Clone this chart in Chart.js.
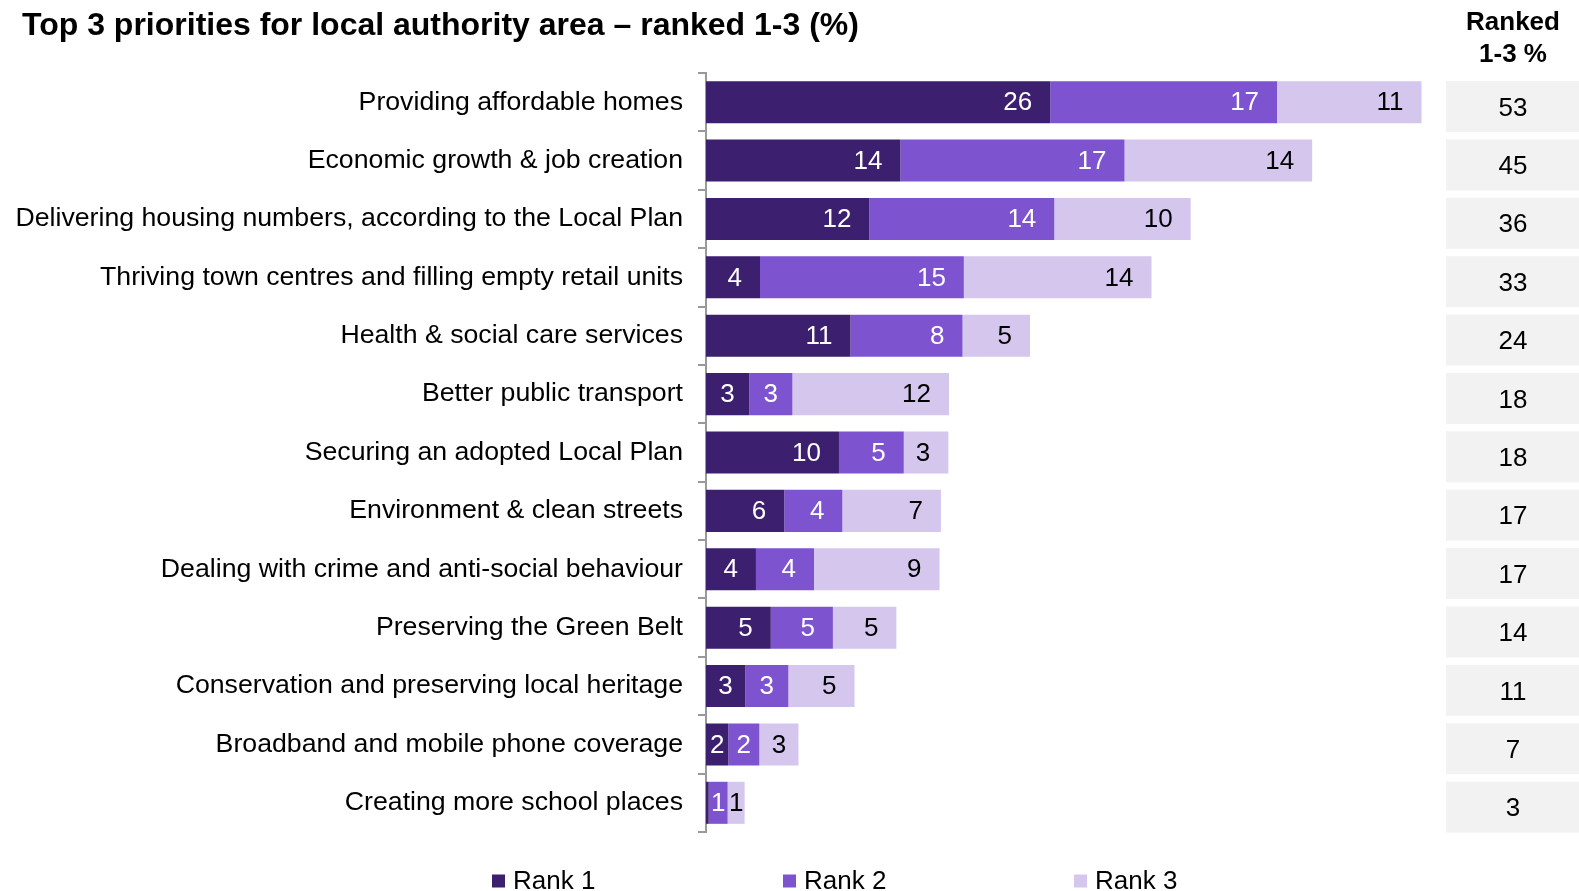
<!DOCTYPE html>
<html>
<head>
<meta charset="utf-8">
<title>Top 3 priorities for local authority area</title>
<script src="https://cdn.jsdelivr.net/npm/chart.js@4.4.1/dist/chart.umd.min.js"></script>
<style>
  html, body { margin: 0; padding: 0; background: #fff; overflow: hidden; }
  #wrap { position: relative; width: 1579px; height: 891px; }
</style>
</head>
<body>
<div id="wrap"><canvas id="priorityChart"></canvas></div>
<script>
// Top 3 priorities - stacked horizontal bars with a totals column

const categories = [
  'Providing affordable homes',
  'Economic growth & job creation',
  'Delivering housing numbers, according to the Local Plan',
  'Thriving town centres and filling empty retail units',
  'Health & social care services',
  'Better public transport',
  'Securing an adopted Local Plan',
  'Environment & clean streets',
  'Dealing with crime and anti-social behaviour',
  'Preserving the Green Belt',
  'Conservation and preserving local heritage',
  'Broadband and mobile phone coverage',
  'Creating more school places',
];

// values (labels show them rounded)
const rank1 = [25.5, 14.4, 12.1, 4.0, 10.7, 3.2, 9.85, 5.8, 3.7, 4.8, 2.9, 1.65, 0.2];
const rank2 = [16.8, 16.6, 13.7, 15.1, 8.3, 3.2, 4.8, 4.3, 4.3, 4.6, 3.2, 2.3, 1.4];
const rank3 = [10.7, 13.9, 10.1, 13.9, 5.0, 11.6, 3.3, 7.3, 9.3, 4.7, 4.9, 2.9, 1.26];
const ranked13 = [53, 45, 36, 33, 24, 18, 18, 17, 17, 14, 11, 7, 3];

const seriesNames = ['Rank 1', 'Rank 2', 'Rank 3'];
const titleText = 'Top 3 priorities for local authority area \u2013 ranked 1-3 (%)';
const totalsHeader = ['Ranked', '1-3 %'];

const colors = {
  rank1: '#3c1f6e',
  rank2: '#7e53cf',
  rank3: '#d5c6ee',
  axis: '#999999',
  box: '#f2f2f2',
  text: '#000000',
};
const labelColors = ['#ffffff', '#ffffff', '#000000'];

const FONT = "'Liberation Sans', Arial, sans-serif";
Chart.defaults.font.family = FONT;
Chart.defaults.color = colors.text;

// value labels, title, totals column and legend
const extrasPlugin = {
  id: 'extras',
  afterDatasetsDraw(chart) {
    const ctx = chart.ctx;
    ctx.save();
    ctx.font = '26px ' + FONT;
    ctx.textBaseline = 'middle';
    chart.data.datasets.forEach((ds, di) => {
      const meta = chart.getDatasetMeta(di);
      meta.data.forEach((bar, i) => {
        const txt = String(Math.round(ds.data[i]));
        if (txt === '0') return;
        const p = bar.getProps(['x', 'y', 'base'], true);
        const start = Math.min(p.x, p.base);
        const end = Math.max(p.x, p.base);
        const w = ctx.measureText(txt).width;
        ctx.fillStyle = labelColors[di];
        if (end - start >= w + 30) {
          ctx.textAlign = 'right';
          ctx.fillText(txt, end - 18, p.y + 1);
        } else {
          ctx.textAlign = 'center';
          ctx.fillText(txt, (start + end) / 2, p.y + 1);
        }
      });
    });
    ctx.restore();
  },
  afterDraw(chart) {
    const ctx = chart.ctx;
    const yScale = chart.scales.y;
    const pitch = (yScale.bottom - yScale.top) / categories.length;
    ctx.save();

    // title
    ctx.fillStyle = colors.text;
    ctx.font = 'bold 32px ' + FONT;
    ctx.textAlign = 'left';
    ctx.textBaseline = 'alphabetic';
    ctx.fillText(titleText, 22, 35);

    // totals header
    ctx.font = 'bold 26px ' + FONT;
    ctx.textAlign = 'center';
    ctx.fillText(totalsHeader[0], 1513, 30);
    ctx.fillText(totalsHeader[1], 1513, 62);

    // totals boxes
    ctx.font = '26px ' + FONT;
    ctx.textBaseline = 'middle';
    ranked13.forEach((v, i) => {
      const rowTop = yScale.getPixelForValue(i) - pitch / 2;
      ctx.fillStyle = colors.box;
      ctx.fillRect(1446, rowTop + 8, 133, 51);
      ctx.fillStyle = colors.text;
      ctx.fillText(String(v), 1513, rowTop + 8 + 27.5);
    });

    // legend
    const legendX = [492, 783, 1074];
    const fills = [colors.rank1, colors.rank2, colors.rank3];
    ctx.textAlign = 'left';
    ctx.textBaseline = 'alphabetic';
    seriesNames.forEach((name, i) => {
      ctx.fillStyle = fills[i];
      ctx.fillRect(legendX[i], 874.5, 13, 13);
      ctx.fillStyle = colors.text;
      ctx.fillText(name, legendX[i] + 21, 889);
    });

    ctx.restore();
  }
};

const chartCtx = document.getElementById('priorityChart');
new Chart(chartCtx, {
  type: 'bar',
  data: {
    labels: categories,
    datasets: [
      { label: seriesNames[0], data: rank1, backgroundColor: colors.rank1 },
      { label: seriesNames[1], data: rank2, backgroundColor: colors.rank2 },
      { label: seriesNames[2], data: rank3, backgroundColor: colors.rank3 },
    ]
  },
  options: {
    indexAxis: 'y',
    responsive: true,
    maintainAspectRatio: false,
    animation: false,
    layout: {
      padding: { top: 73, bottom: 59, left: 0, right: 144 },
    },
    datasets: {
      bar: {
        categoryPercentage: 0.72,
        barPercentage: 1,
        borderWidth: 0,
      }
    },
    plugins: {
      legend: { display: false },
      title: { display: false },
      tooltip: { enabled: false },
    },
    scales: {
      x: {
        stacked: true,
        min: 0,
        max: 54,
        display: false,
      },
      y: {
        stacked: true,
        afterFit: (scale) => { scale.width = 706; },
        grid: {
          offset: true,
          drawOnChartArea: false,
          drawTicks: true,
          tickLength: 8,
          color: colors.axis,
          lineWidth: 2,
        },
        border: {
          display: true,
          color: colors.axis,
          width: 2,
        },
        ticks: {
          autoSkip: false,
          color: colors.text,
          padding: 15,
          font: { size: 26.7 },
        }
      }
    }
  },
  plugins: [extrasPlugin]
});
</script>
</body>
</html>
